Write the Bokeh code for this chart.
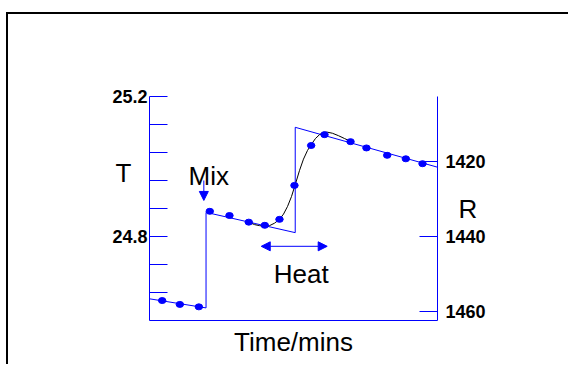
from bokeh.plotting import figure
from bokeh.models import (Range1d, LinearAxis, FixedTicker, Label, Arrow,
                          NormalHead)
from bokeh.embed import file_html
from bokeh.resources import INLINE

# ---- data ----
time_pts = [1.32, 3.16, 5.14, 6.28, 8.33, 10.34, 12.01, 13.54, 15.10, 16.84,
            18.23, 20.94, 22.60, 24.76, 26.70, 28.44]
temp_pts = [24.617, 24.606, 24.599, 24.872, 24.860, 24.841, 24.832, 24.849,
            24.946, 25.060, 25.091, 25.071, 25.053, 25.032, 25.022, 25.008]

# extrapolated baselines (step model)
step_t = [0.0, 5.89, 5.89, 15.18, 15.18, 30.0]
step_T = [24.622, 24.596, 24.869, 24.811, 25.112, 24.998]

# smooth fitted curve through the heating step
fit_t = [10.42, 10.94, 11.46, 11.98, 12.50, 13.02, 13.54, 13.96, 14.38, 14.79,
         15.21, 15.63, 16.04, 16.46, 16.88, 17.29, 17.71, 18.13, 18.54, 19.06,
         19.69, 20.31, 20.94]
fit_T = [24.840, 24.834, 24.831, 24.829, 24.831, 24.838, 24.849, 24.864,
         24.886, 24.914, 24.951, 24.989, 25.021, 25.046, 25.064, 25.080,
         25.091, 25.098, 25.098, 25.095, 25.088, 25.080, 25.072]

t_labelled = [24.8, 25.2]
t_unlabelled = [24.64, 24.72, 24.88, 24.96, 25.04, 25.12]
r_ticks = [1420, 1440, 1460]

BLUE = "#0000ff"
FONT = "Liberation Sans"

p = figure(width=562, height=352, output_backend="svg", toolbar_location=None,
           x_range=Range1d(0, 30), y_range=Range1d(24.56, 25.2),
           min_border_left=141, min_border_right=133,
           min_border_top=82, min_border_bottom=46)
p.grid.visible = False
p.outline_line_color = None
p.background_fill_color = "white"
p.border_fill_color = "white"
# outer frame box: only its top and left edges fall inside the window
p.styles = {"margin-left": "6px", "margin-top": "12px",
            "border-left": "2px solid black", "border-top": "2px solid black"}

# left axis (T)
ya = p.yaxis[0]
ya.ticker = FixedTicker(ticks=t_labelled, minor_ticks=t_unlabelled)
ya.axis_line_color = BLUE
ya.major_tick_line_color = BLUE
ya.minor_tick_line_color = BLUE
ya.major_tick_in = 18
ya.major_tick_out = 0
ya.minor_tick_in = 18
ya.minor_tick_out = 0
ya.major_label_standoff = 2
ya.major_label_text_font = FONT
ya.major_label_text_font_style = "bold"
ya.major_label_text_font_size = "18px"
ya.major_label_text_color = "black"
ya.axis_label = "T\n\n"
ya.axis_label_orientation = "horizontal"
ya.axis_label_standoff = -22
ya.axis_label_text_font = FONT
ya.axis_label_text_font_style = "normal"
ya.axis_label_text_font_size = "26px"
ya.axis_label_text_color = "black"

# right axis (R), inverted
p.extra_y_ranges = {"R": Range1d(1462.4, 1402.67)}
ra = LinearAxis(y_range_name="R", ticker=FixedTicker(ticks=r_ticks))
ra.axis_line_color = BLUE
ra.major_tick_line_color = BLUE
ra.minor_tick_line_color = None
ra.major_tick_in = 18
ra.major_tick_out = 0
ra.major_label_standoff = 8
ra.major_label_text_font = FONT
ra.major_label_text_font_style = "bold"
ra.major_label_text_font_size = "18px"
ra.major_label_text_color = "black"
ra.axis_label = "R"
ra.axis_label_orientation = "horizontal"
ra.axis_label_standoff = -30
ra.axis_label_text_font = FONT
ra.axis_label_text_font_style = "normal"
ra.axis_label_text_font_size = "26px"
ra.axis_label_text_color = "black"
p.add_layout(ra, "right")

# bottom axis: line and title only
xa = p.xaxis[0]
xa.ticker = FixedTicker(ticks=[])
xa.axis_line_color = BLUE
xa.major_tick_line_color = None
xa.minor_tick_line_color = None
xa.major_label_text_font_size = "0px"
xa.major_label_standoff = 0
xa.axis_label = "Time/mins"
xa.axis_label_standoff = 6
xa.axis_label_text_font = FONT
xa.axis_label_text_font_style = "normal"
xa.axis_label_text_font_size = "26px"
xa.axis_label_text_color = "black"

# data
p.line(step_t, step_T, line_color=BLUE, line_width=1)
p.line(fit_t, fit_T, line_color="black", line_width=1)
p.ellipse(time_pts, temp_pts, width=7.5, height=6, width_units="screen",
          height_units="screen", fill_color=BLUE, line_color=BLUE)

# annotations inside the plot area
def lab(x, y, txt):
    p.add_layout(Label(x=x, y=y, text=txt, text_font=FONT, text_font_size="26px",
                       text_align="center", text_baseline="alphabetic",
                       text_color="black"))

lab(6.18, 24.974, "Mix")
lab(15.81, 24.692, "Heat")

p.add_layout(Arrow(x_start=5.66, y_start=24.96, x_end=5.66, y_end=24.903,
                   line_color=BLUE, line_width=1,
                   end=NormalHead(size=9, fill_color=BLUE, line_color=BLUE)))
p.add_layout(Arrow(x_start=11.64, y_start=24.772, x_end=18.51, y_end=24.772,
                   line_color=BLUE, line_width=1,
                   start=NormalHead(size=9, fill_color=BLUE, line_color=BLUE),
                   end=NormalHead(size=9, fill_color=BLUE, line_color=BLUE)))

open("out.html", "w").write(file_html(p, INLINE))
